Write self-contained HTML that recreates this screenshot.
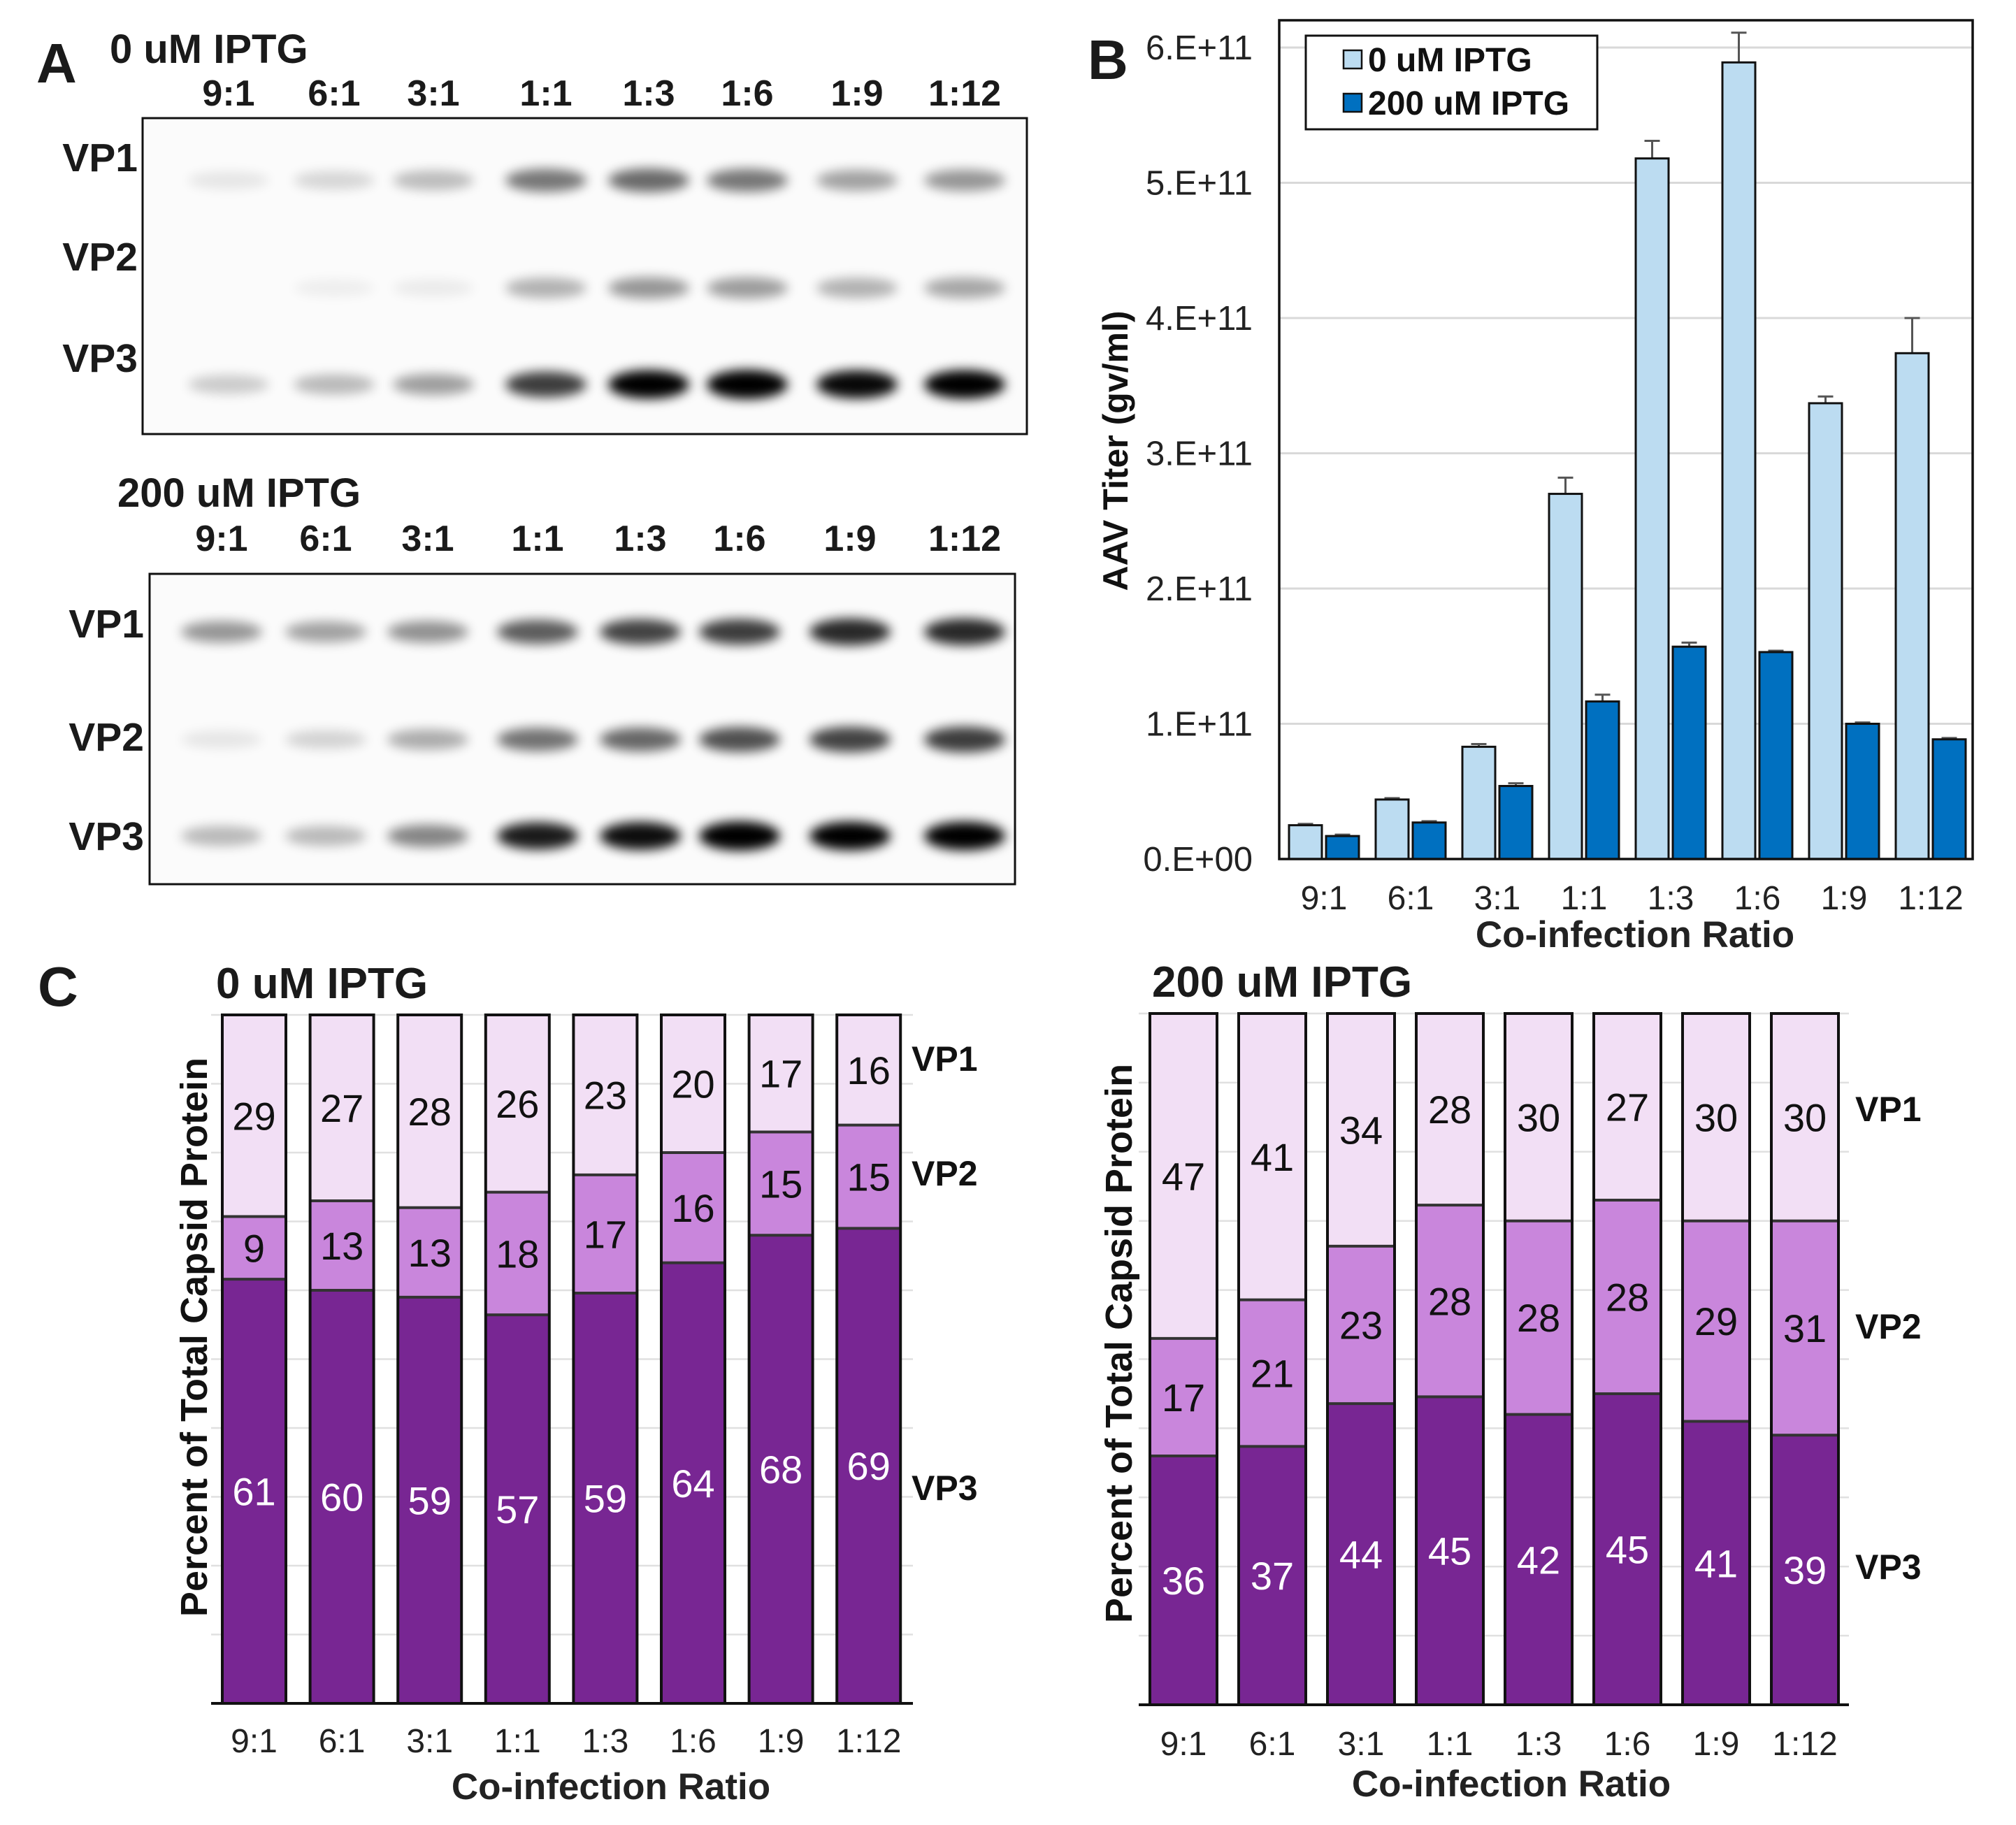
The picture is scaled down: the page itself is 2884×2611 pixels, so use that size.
<!DOCTYPE html>
<html><head><meta charset="utf-8">
<style>
html,body{margin:0;padding:0;background:#fff;}
svg{display:block;font-family:"Liberation Sans",Arial,sans-serif;}
</style></head>
<body>
<svg id="fig" xmlns="http://www.w3.org/2000/svg" width="2884" height="2611" viewBox="0 0 2884 2611">
<defs>
<filter id="blur" x="-50%" y="-100%" width="200%" height="300%"><feGaussianBlur stdDeviation="8"/></filter>
</defs>
</svg>
<script>
// ---------- data ----------
const ratios = ["9:1","6:1","3:1","1:1","1:3","1:6","1:9","1:12"];
// Gel band darkness (0..1)
const gel0VP1 = [0.08,0.14,0.24,0.5,0.55,0.5,0.34,0.38];
const gel0VP2 = [0.0,0.05,0.06,0.28,0.38,0.36,0.28,0.32];
const gel0VP3 = [0.18,0.25,0.35,0.72,0.95,1.0,0.92,0.96];
const gel2VP1 = [0.38,0.34,0.4,0.6,0.7,0.72,0.8,0.8];
const gel2VP2 = [0.08,0.15,0.3,0.52,0.56,0.65,0.7,0.72];
const gel2VP3 = [0.25,0.25,0.45,0.85,0.9,1.0,0.95,0.95];
// Panel B titers (x1e11 gv/ml)
const titer0 = [0.25,0.44,0.83,2.70,5.18,5.89,3.37,3.74];
const titer0Err = [0.01,0.01,0.02,0.12,0.13,0.22,0.05,0.26];
const titer200 = [0.17,0.27,0.54,1.165,1.57,1.53,1.0,0.885];
const titer200Err = [0.01,0.01,0.02,0.05,0.03,0.01,0.01,0.01];
const yTicksB = ["0.E+00","1.E+11","2.E+11","3.E+11","4.E+11","5.E+11","6.E+11"];
// Panel C percentages
const c0VP3 = [61,60,59,57,59,64,68,69];
const c0VP2 = [9,13,13,18,17,16,15,15];
const c0VP1 = [29,27,28,26,23,20,17,16];
const c2VP3 = [36,37,44,45,42,45,41,39];
const c2VP2 = [17,21,23,28,28,28,29,31];
const c2VP1 = [47,41,34,28,30,27,30,30];

// ---------- helpers ----------
const svg = document.getElementById('fig');
const NS = "http://www.w3.org/2000/svg";
function mk(tag, attrs, parent){
  const e = document.createElementNS(NS, tag);
  for (const k in attrs) e.setAttribute(k, attrs[k]);
  (parent||svg).appendChild(e);
  return e;
}
function txt(str, x, y, size, weight, anchor, fill, parent){
  const t = mk('text', {x:x, y:y, 'font-size':size, 'font-weight':weight||'normal', 'text-anchor':anchor||'start', fill:fill||'#111'}, parent);
  t.textContent = str;
  return t;
}

// ---------- Panel A (gels) ----------
function drawGel(cfg){
  const g = mk('g', {});
  
  
  const title = txt(cfg.title, cfg.titleX, cfg.titleY, 58, 'bold', 'start', '#1a1a1a', g);
  
  
  const box = mk('rect', {x:cfg.x0, y:cfg.y0, width:cfg.x1-cfg.x0, height:cfg.y1-cfg.y0, fill:'#fbfbfb', stroke:'#111', 'stroke-width':3}, g);
  
  
  ratios.forEach((r,i)=>{
    const l = txt(r, cfg.lanes[i], cfg.laneY, 52, 'bold', 'middle', '#1a1a1a', g);
    
    
  });
  const rows = [['VP1',cfg.vp1,cfg.bandY[0],cfg.labY[0]],['VP2',cfg.vp2,cfg.bandY[1],cfg.labY[1]],['VP3',cfg.vp3,cfg.bandY[2],cfg.labY[2]]];
  rows.forEach(row=>{
    const lab = txt(row[0], cfg.labX, row[3]+20, 57, 'bold', 'end', '#1a1a1a', g);
    
    
    row[1].forEach((v,i)=>{
      if (v <= 0) return;
      const b = mk('ellipse', {cx:cfg.lanes[i], cy:row[2], rx:58, ry:12+9*v, fill:'#000', opacity:Math.min(1, v*1.05), filter:'url(#blur)'}, g);
      
      
    });
  });
}
const lettA = txt('A', 52, 118, 80, 'bold', 'start', '#1a1a1a');


drawGel({name:'gel-0-iptg', title:'0 uM IPTG', titleX:157, titleY:90, x0:204, y0:169, x1:1469, y1:621,
  lanes:[327,478,620,781,928,1069,1226,1380], laneY:151, labX:197, labY:[225,367,512], bandY:[258,412,550],
  vp1:gel0VP1, vp2:gel0VP2, vp3:gel0VP3});
drawGel({name:'gel-200-iptg', title:'200 uM IPTG', titleX:168, titleY:725, x0:214, y0:821, x1:1452, y1:1265,
  lanes:[317,466,612,769,916,1058,1216,1380], laneY:788, labX:206, labY:[892,1054,1196], bandY:[904,1058,1196],
  vp1:gel2VP1, vp2:gel2VP2, vp3:gel2VP3});

// ---------- Panel B ----------
const B = {left:1830, right:2822, top:29, zero:1229, unit:193.5};
function yB(v){ return B.zero - v*B.unit; }
const groupW = (B.right - B.left)/8;
function xGroup(i){ return B.left + 14 + i*groupW; }
const lettB = txt('B', 1556, 113, 80, 'bold', 'start', '#1a1a1a');


yTicksB.forEach((t,i)=>{
  if (i>0){
    const gl = mk('line', {x1:B.left, x2:B.right, y1:yB(i), y2:yB(i), stroke:'#d9d9d9', 'stroke-width':3});
    
    
  }
  const tl = txt(t, 1792, yB(i)+17, 49, 'normal', 'end', '#222');
  
  
});
function errBar(x, top, err, name){
  const g = mk('g', {stroke:'#555', 'stroke-width':3});
  
  
  mk('line', {x1:x, x2:x, y1:top, y2:yB(err)}, g);
  mk('line', {x1:x-11, x2:x+11, y1:yB(err), y2:yB(err)}, g);
}
ratios.forEach((r,i)=>{
  const x = xGroup(i);
  const e1 = titer0[i] + titer0Err[i];
  errBar(x+23.5, yB(titer0[i]), e1, 'error-bar-0-iptg');
  const b1 = mk('rect', {x:x, y:yB(titer0[i]), width:47, height:B.zero-yB(titer0[i]), fill:'#bcdcf1', stroke:'#111', 'stroke-width':3});
  
  
  const e2 = titer200[i] + titer200Err[i];
  errBar(x+53+23.5, yB(titer200[i]), e2, 'error-bar-200-iptg');
  const b2 = mk('rect', {x:x+53, y:yB(titer200[i]), width:47, height:B.zero-yB(titer200[i]), fill:'#0070c0', stroke:'#111', 'stroke-width':3});
  
  
  const xl = txt(r, x+50, 1301, 48, 'normal', 'middle', '#222');
  
  
});
const frameB = mk('rect', {x:B.left, y:B.top, width:B.right-B.left, height:B.zero-B.top, fill:'none', stroke:'#111', 'stroke-width':3.5});


const legB = mk('g', {});


mk('rect', {x:1868, y:51, width:417, height:134, fill:'#fff', stroke:'#111', 'stroke-width':3}, legB);
const sw1 = mk('rect', {x:1922, y:72, width:26, height:26, fill:'#bcdcf1', stroke:'#111', 'stroke-width':2.5}, legB);


const lt1 = txt('0 uM IPTG', 1957, 102, 48, 'bold', 'start', '#111', legB);


const sw2 = mk('rect', {x:1922, y:134, width:26, height:26, fill:'#0070c0', stroke:'#111', 'stroke-width':2.5}, legB);


const lt2 = txt('200 uM IPTG', 1957, 164, 48, 'bold', 'start', '#111', legB);


const xtB = txt('Co-infection Ratio', 2339, 1355, 53, 'bold', 'middle', '#222');


const ytB = txt('AAV Titer (gv/ml)', 0, 0, 50, 'bold', 'middle', '#111');
ytB.setAttribute('transform', 'translate(1613,645) rotate(-90)');



// ---------- Panel C ----------
const lettC = txt('C', 54, 1439, 80, 'bold', 'start', '#1a1a1a');


function drawStack(cfg){
  const g = mk('g', {});
  
  
  const H = cfg.bottom - cfg.top;
  const yC = p => cfg.bottom - p/100*H;
  for (let p=10; p<=100; p+=10){
    const gl = mk('line', {x1:cfg.axL, x2:cfg.axR, y1:yC(p), y2:yC(p), stroke:'#e0e0e0', 'stroke-width':2.5}, g);
    
    
  }
  ratios.forEach((r,i)=>{
    const x = cfg.x0 + i*cfg.pitch;
    const tot = cfg.vp3[i] + cfg.vp2[i] + cfg.vp1[i];
    const segs = [[cfg.vp3[i],'#782693','#ffffff','vp3'],[cfg.vp2[i],'#c986dc','#111','vp2'],[cfg.vp1[i],'#f2dff5','#111','vp1']];
    let cum = 0;
    segs.forEach(s=>{
      const p0 = cum/tot*100, p1 = (cum+s[0])/tot*100;
      const rc = mk('rect', {x:x, y:yC(p1), width:cfg.w, height:yC(p0)-yC(p1), fill:s[1]}, g);
      
      
      if (cum > 0){
        const sep = mk('line', {x1:x, x2:x+cfg.w, y1:yC(p0), y2:yC(p0), stroke:'#333', 'stroke-width':4}, g);
        
        
      }
      const vl = txt(String(s[0]), x+cfg.w/2, (yC(p0)+yC(p1))/2+20, 56, 'normal', 'middle', s[2], g);
      
      
      cum += s[0];
    });
    const ol = mk('rect', {x:x, y:yC(100), width:cfg.w, height:H, fill:'none', stroke:'#111', 'stroke-width':4}, g);
    
    
    const xl = txt(r, x+cfg.w/2, cfg.tickY, 48, 'normal', 'middle', '#222', g);
    
    
  });
  const ax = mk('line', {x1:cfg.axL, x2:cfg.axR, y1:cfg.bottom, y2:cfg.bottom, stroke:'#111', 'stroke-width':4}, g);
  
  
  const tt = txt(cfg.title, cfg.titleX, cfg.titleY, 62, 'bold', 'start', '#1a1a1a', g);
  
  
  const xt = txt('Co-infection Ratio', cfg.xtX, cfg.xtY, 53, 'bold', 'middle', '#222', g);
  
  
  const yt = txt('Percent of Total Capsid Protein', 0, 0, 54, 'bold', 'middle', '#111', g);
  yt.setAttribute('transform', 'translate(' + cfg.ytX + ',' + cfg.ytY + ') rotate(-90)');
  
  
  ['VP1','VP2','VP3'].forEach((n,k)=>{
    const l = txt(n, cfg.vpX, cfg.vpY[k]+18, 50, 'bold', 'start', '#111', g);
    
    
  });
}
drawStack({name:'stack-chart-0-iptg', top:1452, bottom:2437, axL:302, axR:1306, x0:318, pitch:125.6, w:91,
  vp1:c0VP1, vp2:c0VP2, vp3:c0VP3, tickY:2507, title:'0 uM IPTG', titleX:309, titleY:1428,
  xtX:874, xtY:2574, ytX:296, ytY:1913, vpX:1304, vpY:[1514,1678,2128]});
drawStack({name:'stack-chart-200-iptg', top:1450, bottom:2439, axL:1629, axR:2645, x0:1645, pitch:127, w:96,
  vp1:c2VP1, vp2:c2VP2, vp3:c2VP3, tickY:2511, title:'200 uM IPTG', titleX:1648, titleY:1426,
  xtX:2162, xtY:2570, ytX:1619, ytY:1922, vpX:2654, vpY:[1586,1897,2241]});
</script>
</body></html>
